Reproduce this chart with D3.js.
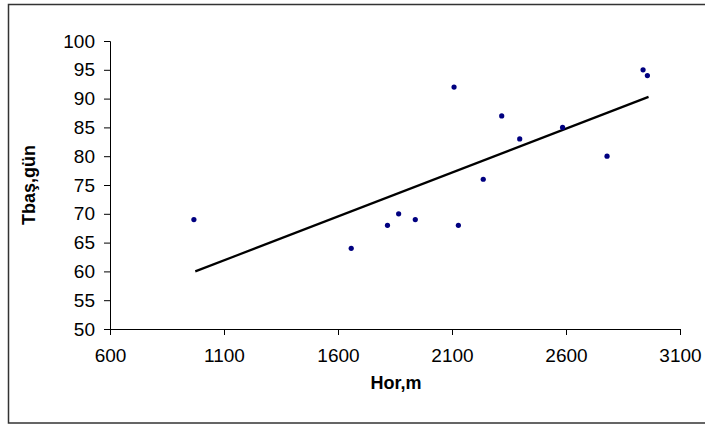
<!DOCTYPE html>
<html>
<head>
<meta charset="utf-8">
<script src="https://cdn.jsdelivr.net/npm/d3@7"></script>
<style>
  body { margin: 0; background: #fff; }
  text { font-family: "Liberation Sans", Arial, sans-serif; }
</style>
</head>
<body>
<div id="container"></div>
<script>
// data
var horValues = [968, 1658, 1817, 1866, 1939, 2109, 2128, 2237, 2318, 2397, 2585, 2780, 2938, 2957];
var tbasValues = [69, 64, 68, 70, 69, 92, 68, 76, 87, 83, 85, 80, 95, 94];
var trendX = [974, 2962];
var trendY = [60, 90.3];
var xTicks = [600, 1100, 1600, 2100, 2600, 3100];
var yTicks = [50, 55, 60, 65, 70, 75, 80, 85, 90, 95, 100];

const width = 705;
const height = 426;
const plot = {left: 110, right: 680, top: 41, bottom: 329};

const svg = d3.select("div#container").append("svg")
    .attr("width", width)
    .attr("height", height);

// outer chart frame
svg.append("rect")
    .attr("x", 8.5).attr("y", 4.5)
    .attr("width", 700).attr("height", 418.5)
    .attr("fill", "none")
    .attr("stroke", "#333")
    .attr("stroke-width", 1.5);

const xScale = d3.scaleLinear().domain([600, 3100]).range([plot.left, plot.right]);
const yScale = d3.scaleLinear().domain([50, 100]).range([plot.bottom, plot.top]);

const xaxis = d3.axisBottom(xScale).tickValues(xTicks).tickFormat(d3.format("d"))
    .tickSize(6).tickPadding(14).tickSizeOuter(6);
const yaxis = d3.axisLeft(yScale).tickValues(yTicks).tickFormat(d3.format("d"))
    .tickSize(6).tickPadding(9).tickSizeOuter(6);

const gx = svg.append("g")
    .attr("transform", "translate(0," + plot.bottom + ")")
    .call(xaxis);
const gy = svg.append("g")
    .attr("transform", "translate(" + plot.left + ",0)")
    .call(yaxis);

[gx, gy].forEach(function(g) {
  g.selectAll("path, line").attr("stroke", "#000");
  g.selectAll("text")
      .attr("fill", "#000")
      .style("font-size", "19px");
});

// trend line
const line = d3.line()
    .x(function(d) { return xScale(d[0]); })
    .y(function(d) { return yScale(d[1]); });

svg.append("path")
    .datum(d3.zip(trendX, trendY))
    .attr("d", line)
    .attr("fill", "none")
    .attr("stroke", "#000")
    .attr("stroke-width", 2.2);

// points
svg.selectAll("circle.pt")
    .data(d3.zip(horValues, tbasValues))
    .enter()
    .append("circle")
    .attr("class", "pt")
    .attr("cx", function(d) { return xScale(d[0]); })
    .attr("cy", function(d) { return yScale(d[1]); })
    .attr("r", 2.6)
    .attr("fill", "#000080");

// axis titles
svg.append("text")
    .attr("x", 396)
    .attr("y", 389)
    .attr("text-anchor", "middle")
    .style("font-size", "18px")
    .style("font-weight", "bold")
    .text("Hor,m");

svg.append("text")
    .attr("transform", "translate(35," + ((plot.top + plot.bottom) / 2) + ") rotate(-90)")
    .attr("text-anchor", "middle")
    .style("font-size", "18px")
    .style("font-weight", "bold")
    .text("Tbaş,gün");
</script>
</body>
</html>
